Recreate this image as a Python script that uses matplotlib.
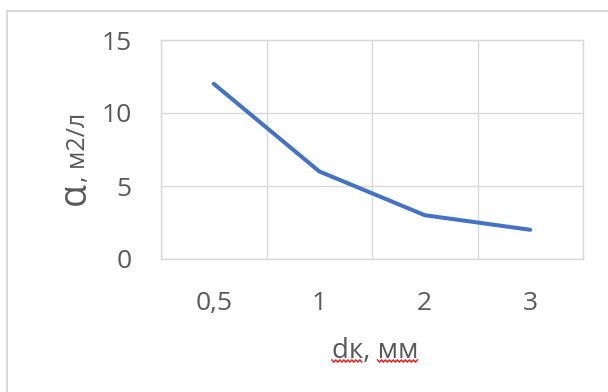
import numpy as np
import matplotlib.pyplot as plt
from matplotlib.lines import Line2D

plt.rcParams['font.family'] = ['Open Sans', 'DejaVu Sans']

# grain size categories and specific area values
categories = ['0,5', '1', '2', '3']
alpha_vals = [12, 6, 3, 2]
y_ticks = [0, 5, 10, 15]

W, H = 608, 392
GRID = '#D9D9D9'
TXT = '#595959'
FS = 19

fig = plt.figure(figsize=(W / 100, H / 100), dpi=100)
ax = fig.add_axes([161 / W, 1 - 259 / H, (583 - 161) / W, (259 - 40) / H])

x = np.arange(len(categories))
ax.plot(x, alpha_vals, color='#4472C4', lw=2.9, solid_capstyle='round',
        solid_joinstyle='round', zorder=3)

ax.set_xlim(-0.5, len(categories) - 0.5)
ax.set_ylim(y_ticks[0], y_ticks[-1])
ax.set_xticks(x)
ax.set_xticklabels(categories)
ax.set_xticks(np.arange(-0.5, len(categories), 0.5), minor=True)
ax.set_yticks(y_ticks)
ax.grid(which='minor', axis='x', color=GRID, lw=1.0)
ax.grid(which='major', axis='y', color=GRID, lw=1.0)
ax.tick_params(which='both', length=0)
ax.tick_params(axis='x', pad=23, labelsize=FS, labelcolor=TXT)
ax.tick_params(axis='y', pad=21, labelsize=FS, labelcolor=TXT)
for s in ax.spines.values():
    s.set_color(GRID)
    s.set_linewidth(1.0)
ax.set_axisbelow(True)

# y label: bigger alpha, then the units
fig.text(85 / W, 1 - 194 / H, 'α', rotation=90, fontsize=27, color=TXT,
         ha='center', va='baseline', rotation_mode='anchor')
fig.text(85 / W, 1 - 182 / H, ', м2/л', rotation=90, fontsize=18, color=TXT,
         ha='left', va='baseline', rotation_mode='anchor')

# x label
xl = fig.text(375 / W, 1 - 351 / H, 'dк, мм', fontsize=20, color=TXT,
              ha='center', va='center')

# red spell-check squiggles under the words of the x label
fig.canvas.draw()
r = fig.canvas.get_renderer()
bb = xl.get_window_extent(r)

def width(s):
    t = fig.text(0, 0, s, fontsize=20)
    w = t.get_window_extent(r).width
    t.remove()
    return w

full = width('dк, мм')
scale = bb.width / full
spans = [(0, width('dк')), (width('dк, '), full)]
ys = bb.y0 + 4
for a, b in spans:
    x0, x1 = bb.x0 + a * scale, bb.x0 + b * scale
    xs = np.arange(x0, x1 + 0.1, 2.0)
    yy = ys + np.where(np.arange(len(xs)) % 2 == 0, 1.2, -1.2)
    fig.add_artist(Line2D(xs / W, yy / H, color='#E02020', lw=1.0))

# outer chart frame
fig.add_artist(Line2D([7 / W, 1.05], [1 - 11 / H, 1 - 11 / H], color=GRID, lw=1.5))
fig.add_artist(Line2D([7 / W, 7 / W], [1 - 11 / H, -0.05], color=GRID, lw=1.5))

fig.savefig('out.png', dpi=100)
